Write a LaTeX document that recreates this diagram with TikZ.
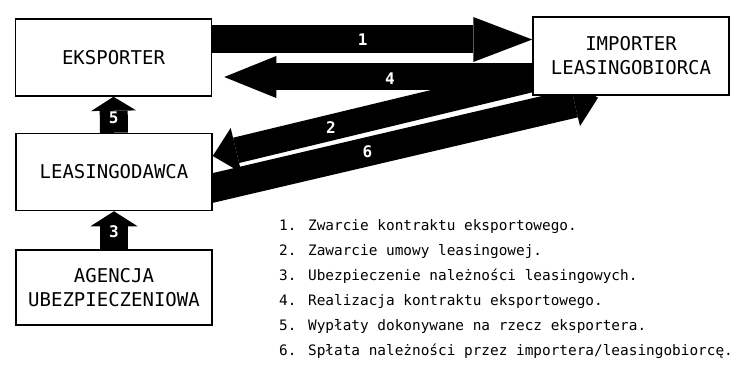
\documentclass[tikz,border=0pt]{standalone}
\usepackage{fontspec}
\setmainfont{DejaVu Sans Mono}
\usetikzlibrary{arrows.meta,backgrounds}

\begin{document}
\begin{tikzpicture}[x=1pt,y=-1pt,
box/.style={draw,line width=1.5pt,fill=white,minimum width=196pt,minimum height=77pt,inner sep=0pt,align=center,font=\fontsize{19}{24}\selectfont},
fat/.style n args={3}{line width=#1,-{Triangle[width=#2,length=#3,line width=0pt]}},
nr/.style={text=white,inner sep=0pt,font=\bfseries\fontsize{16}{16}\selectfont}]
\useasboundingbox (0,0) rectangle (736,366);
\node[box] (eks) at (113.5,57.5) {EKSPORTER};
\node[box] (lea) at (114,172) {LEASINGODAWCA};
\node[box,minimum height=75pt] (age) at (114,287.5) {AGENCJA\\UBEZPIECZENIOWA};
\node[box,minimum height=78pt] (imp) at (631,56) {IMPORTER\\LEASINGOBIORCA};
\begin{pgfonlayer}{background}
%% 1 i 4
\coordinate (a1) at ([yshift=18pt]eks.east);
\draw[fat={28pt}{45pt}{59pt}](a1)--(a1 -| imp.west) node[nr,pos=0.47] (n1) {1};
\coordinate (a4) at ([yshift=-21pt]imp.west);
\draw[fat={27pt}{42pt}{52pt},shorten >=12pt](a4)--(a4 -| eks.east) node[nr,pos=0.445,yshift=-2pt] (n4) {4};
%% 2 i 6
\draw[fat={26pt}{46pt}{24pt}]([yshift=-23pt]imp.west)--([yshift=16pt]lea.east) node[nr,pos=0.63] (n2) {2};
\draw[fat={29pt}{47pt}{24pt}]([xshift=-30pt,yshift=-23pt]lea.east)--([xshift=-33pt,yshift=-2pt]imp.south) node[nr,pos=0.445] (n6) {6};
%% 5 i 3
\draw[fat={28pt}{45pt}{14pt}](lea.north)--(eks.south) node[nr,pos=0.42] (n5) {5};
\draw[fat={28pt}{47pt}{15pt}](age.north)--(lea.south) node[nr,pos=0.45] (n3) {3};
\end{pgfonlayer}
%%
\node[anchor=west,align=left,inner sep=0pt,font=\fontsize{14.4}{25}\selectfont] (legend) at (279,289)
{1. Zwarcie kontraktu eksportowego.\\
2. Zawarcie umowy leasingowej.\\
3. Ubezpieczenie należności leasingowych.\\
4. Realizacja kontraktu eksportowego.\\
5. Wypłaty dokonywane na rzecz eksportera.\\
6. Spłata należności przez importera/leasingobiorcę.};
\end{tikzpicture}
\end{document}
